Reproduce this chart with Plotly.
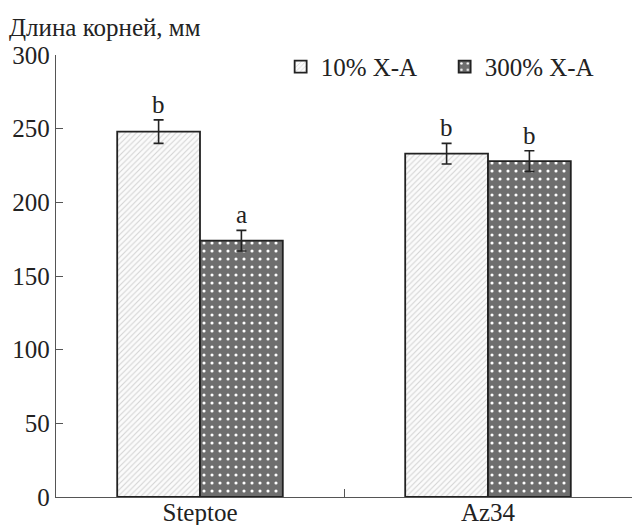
import plotly.graph_objects as go

# Root length data (mm) for two barley cultivars under two treatments
cultivars = ["Steptoe", "Az34"]
treatments = ["10% X-A", "300% X-A"]
root_len_10 = [248, 233]
root_len_300 = [174, 228]
err_10 = [8, 7]
err_300 = [7, 7]
letters_10 = ["b", "b"]
letters_300 = ["a", "b"]
y_ticks = [0, 50, 100, 150, 200, 250, 300]

FONT = "'Liberation Serif', 'Times New Roman', serif"
FS = 25
BARGAP = 0.425
bar_w = (1 - BARGAP) / 2

fig = go.Figure()
fig.add_trace(go.Bar(
    name=treatments[0], x=cultivars, y=root_len_10,
    marker=dict(
        color="white",
        line=dict(color="#222222", width=1.8),
        pattern=dict(shape="/", fgcolor="#d3d3d3", bgcolor="#fbfbfb",
                     size=4, solidity=0.25, fillmode="replace"),
    ),
    error_y=dict(type="data", array=err_10, color="#222222", thickness=1.6, width=5),
))
fig.add_trace(go.Bar(
    name=treatments[1], x=cultivars, y=root_len_300,
    marker=dict(
        color="#6e6e6e",
        line=dict(color="#222222", width=1.8),
        pattern=dict(shape=".", fgcolor="white", bgcolor="#6e6e6e",
                     size=8, solidity=0.12, fillmode="replace"),
    ),
    error_y=dict(type="data", array=err_300, color="#222222", thickness=1.6, width=5),
))

# significance letters above error bars
for i in range(len(cultivars)):
    for vals, errs, letters, side in (
        (root_len_10, err_10, letters_10, -1),
        (root_len_300, err_300, letters_300, 1),
    ):
        fig.add_annotation(
            x=i + side * bar_w / 2, y=vals[i] + errs[i], xref="x", yref="y",
            text=letters[i], showarrow=False, yanchor="bottom", yshift=0,
            font=dict(family=FONT, size=FS, color="#222222"),
        )

fig.add_annotation(
    text="Длина корней, мм", xref="paper", yref="paper",
    x=-0.085, y=1.063, xanchor="left", yanchor="middle", showarrow=False,
    font=dict(family=FONT, size=FS, color="#222222"),
)

fig.update_layout(
    width=632, height=525,
    margin=dict(l=56, r=0, t=55, b=28),
    paper_bgcolor="white", plot_bgcolor="white",
    barmode="group", bargap=BARGAP, bargroupgap=0,
    font=dict(family=FONT, size=FS, color="#222222"),
    showlegend=True,
    legend=dict(
        orientation="h", x=0.39, y=0.973, xanchor="left", yanchor="middle",
        font=dict(family=FONT, size=FS, color="#222222"),
        bgcolor="rgba(0,0,0,0)", itemwidth=30, entrywidth=119,
    ),
    xaxis=dict(
        type="category", range=[-0.5, 1.5], showline=True, linecolor="#555555",
        linewidth=1.3, ticks="inside", tickson="boundaries", ticklen=8,
        tickcolor="#555555", tickwidth=1.3, showgrid=False, zeroline=False,
        automargin=False, ticklabelstandoff=-7,
    ),
    yaxis=dict(
        range=[0, 300], tickvals=y_ticks, showline=True, linecolor="#555555",
        linewidth=1.3, ticks="inside", ticklen=7, tickcolor="#555555",
        tickwidth=1.3, showgrid=False, zeroline=False, automargin=False,
    ),
)

fig.write_html("out.html")
